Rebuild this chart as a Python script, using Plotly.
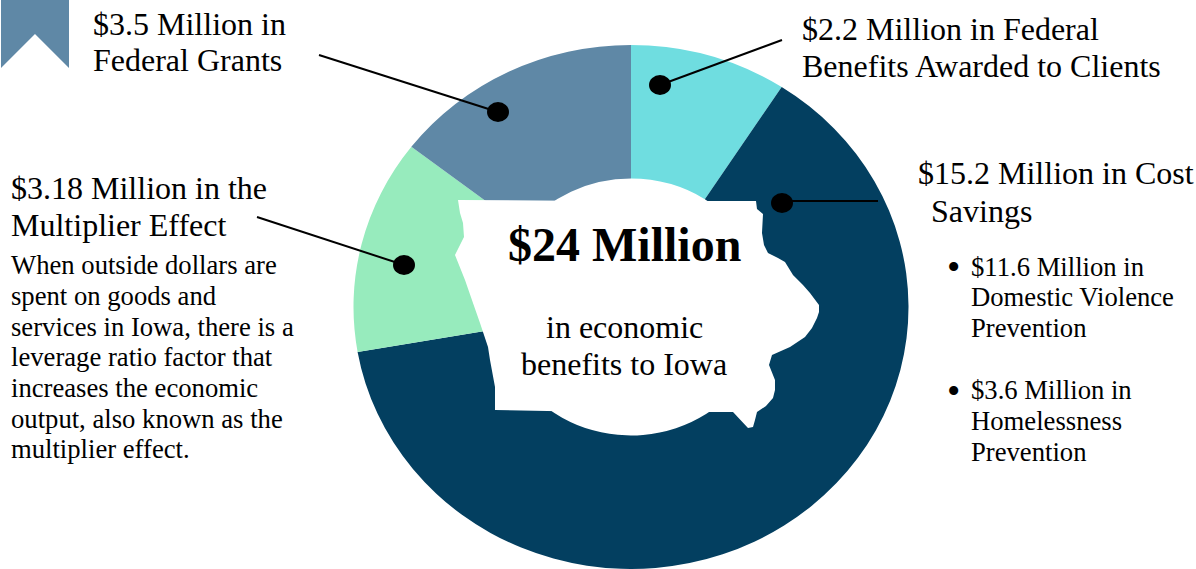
import plotly.graph_objects as go

# ---- Data ----
categories = [
    "Federal Benefits Awarded to Clients",
    "Cost Savings",
    "Multiplier Effect",
    "Federal Grants",
]
values_millions = [2.2, 15.2, 3.18, 3.5]
slice_colors = ["#6FDDE0", "#033F60", "#97EBBD", "#5F88A6"]

heading_lines = [
    ("$3.5 Million in", 92, 24), ("Federal Grants", 92, 60),
    ("$2.2 Million in Federal", 801, 29), ("Benefits Awarded to Clients", 801, 66),
    ("$3.18 Million in the", 10, 188), ("Multiplier Effect", 10, 225),
    ("$15.2 Million in Cost", 917, 173), ("Savings", 930, 211),
]
body_lines = [
    ("When outside dollars are", 9.5, 265), ("spent on goods and", 9.5, 296),
    ("services in Iowa, there is a", 9.5, 327), ("leverage ratio factor that", 9.5, 357),
    ("increases the economic", 9.5, 388), ("output, also known as the", 9.5, 419),
    ("multiplier effect.", 9.5, 449),
    ("$11.6 Million in", 969.5, 267), ("Domestic Violence", 969.5, 297), ("Prevention", 969.5, 328),
    ("$3.6 Million in", 969.5, 390), ("Homelessness", 969.5, 421), ("Prevention", 969.5, 452),
]
bullets = [(953, 267), (953, 391)]

W, H = 1196, 569
FONT = "Liberation Serif"

def px(x):
    return x / W

def py(y):
    return 1 - y / H

# ---- Layout geometry (pixels) ----
CX, CY, R = 631, 307, 262
STRETCH_X = 277.5 / 262  # the reference's ring is slightly wider than tall
leaders = [
    (319, 55, 498, 112),
    (782, 40, 660, 85),
    (257, 217, 404, 265),
    (782, 201, 878, 201),
]
dots = [(498, 112), (660, 85), (404, 265), (782, 203)]
iowa = [
    (458, 200), (600, 201), (756, 201), (757, 209), (763, 214), (762, 233), (764, 245),
    (768, 253), (778, 258), (785, 262), (793, 275), (803, 285), (810, 293), (819, 305),
    (819, 312), (817, 318), (812, 328), (805, 337), (790, 347), (772, 355), (769, 365),
    (775, 380), (775, 390), (773, 398), (766, 406), (757, 412), (755, 420), (753, 427),
    (748, 428), (733, 412), (600, 412), (495, 410), (495, 387), (490, 360),
    (488, 347), (480, 323), (473, 303), (465, 280), (455, 255), (464, 237), (463, 223),
    (460, 213),
]
ribbon = [(1, 0), (69, 0), (69, 68), (35, 34), (1, 68)]


def path(points):
    return "M " + " L ".join(f"{px(x):.5f},{py(y):.5f}" for x, y in points) + " Z"


fig = go.Figure(
    go.Pie(
        labels=categories,
        values=values_millions,
        hole=0.49,
        sort=False,
        direction="clockwise",
        rotation=0,
        textinfo="none",
        marker=dict(colors=slice_colors, line=dict(width=0)),
        domain=dict(
            x=[px(CX - R), px(CX + R)],
            y=[py(CY + R), py(CY - R)],
        ),
        showlegend=False,
        hovertemplate="%{label}: $%{value} Million<extra></extra>",
    )
)

shapes = [
    dict(type="path", xref="paper", yref="paper", path=path(iowa),
         fillcolor="white", line=dict(width=0), layer="above"),
    dict(type="path", xref="paper", yref="paper", path=path(ribbon),
         fillcolor="#5F88A6", line=dict(width=0), layer="above"),
]
for x0, y0, x1, y1 in leaders:
    shapes.append(dict(type="line", xref="paper", yref="paper",
                       x0=px(x0), y0=py(y0), x1=px(x1), y1=py(y1),
                       line=dict(color="black", width=2), layer="above"))
for x, y in dots:
    shapes.append(dict(type="circle", xref="paper", yref="paper",
                       x0=px(x - 11), x1=px(x + 11), y0=py(y + 10), y1=py(y - 10),
                       fillcolor="black", line=dict(width=0), layer="above"))

annotations = []


def add_text(text, x, y, size, anchor="left", bold=False):
    annotations.append(dict(
        text=f"<b>{text}</b>" if bold else text,
        x=px(x), y=py(y), xref="paper", yref="paper",
        xanchor=anchor, yanchor="middle", showarrow=False, borderpad=0,
        font=dict(family=FONT, size=size, color="black"),
    ))


for text, x, y in heading_lines:
    add_text(text, x, y, 32)
for text, x, y in body_lines:
    add_text(text, x, y, 26.67)
for x, y in bullets:
    add_text("•", x, y, 38, anchor="center")
add_text("$24 Million", 624, 244, 48, anchor="center", bold=True)
add_text("in economic", 624, 327, 32, anchor="center")
add_text("benefits to Iowa", 624, 364, 32, anchor="center")

fig.update_layout(
    width=W, height=H,
    margin=dict(l=0, r=0, t=0, b=0),
    paper_bgcolor="white",
    plot_bgcolor="white",
    shapes=shapes,
    annotations=annotations,
)
post_script = (
    "document.body.style.margin='0';document.body.style.overflow='hidden';"
    "document.querySelectorAll('.pielayer').forEach(function(g){"
    f"g.setAttribute('transform','translate({CX} 0) scale({STRETCH_X:.4f} 1) translate({-CX} 0)');"
    "});"
)
fig.write_html("out.html", post_script=post_script, config=dict(displayModeBar=False))
